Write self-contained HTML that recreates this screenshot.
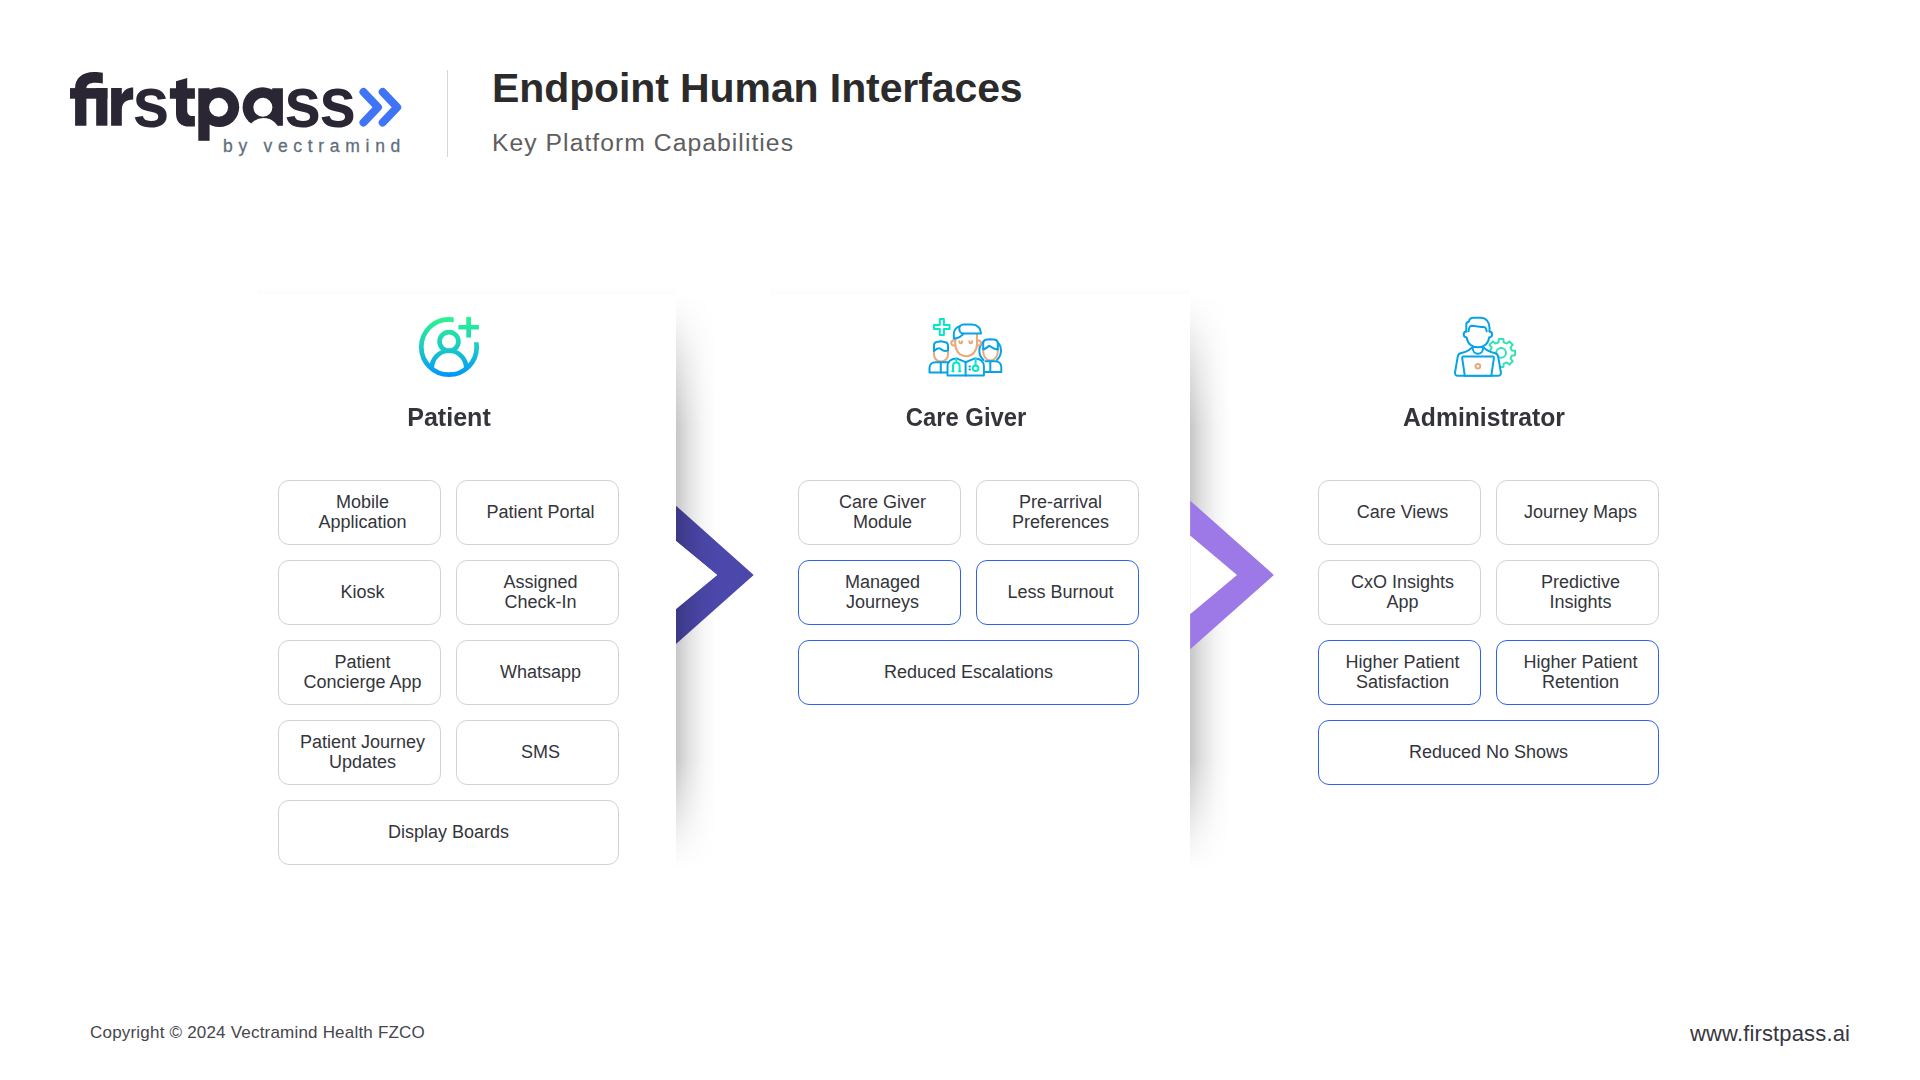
<!DOCTYPE html>
<html><head><meta charset="utf-8">
<style>
*{margin:0;padding:0;box-sizing:border-box}
html,body{width:1920px;height:1080px;overflow:hidden;background:#fff}
body{position:relative;font-family:"Liberation Sans",sans-serif;color:#2e3035}
.abs{position:absolute}
#logo{left:68px;top:58px;font-weight:bold;font-size:75px;color:#2a2633;white-space:nowrap;line-height:1}
#by{left:223px;top:138px;font-size:17.5px;color:#5f6f7c;letter-spacing:5.7px;-webkit-text-stroke:0.3px #5f6f7c;white-space:nowrap;line-height:1}
#divider{left:447px;top:70px;width:1px;height:87px;background:#d6d6d6}
#title{left:492px;top:67.5px;font-weight:bold;font-size:41px;letter-spacing:-0.1px;color:#2b2b2b;white-space:nowrap;line-height:1}
#subtitle{left:492px;top:130.5px;font-size:24.7px;letter-spacing:1.05px;color:#5e5e5e;white-space:nowrap;line-height:1}
.shadow{position:absolute;width:40px;background:linear-gradient(to right,rgba(0,0,0,.22),rgba(0,0,0,.12) 30%,rgba(0,0,0,.04) 65%,rgba(0,0,0,0));
 -webkit-mask-image:linear-gradient(to bottom,rgba(0,0,0,0) 0%,rgba(0,0,0,.18) 5%,rgba(0,0,0,.55) 12%,#000 23%,#000 81%,rgba(0,0,0,.55) 89%,rgba(0,0,0,.2) 95%,rgba(0,0,0,0) 100%)}
.head{position:absolute;width:300px;text-align:center;font-weight:bold;font-size:26px;color:#33353b;line-height:30px}
.card{position:absolute;width:163px;height:65px;border:1px solid #d2d2d2;border-radius:11px;display:flex;align-items:center;justify-content:center;text-align:center;font-size:18px;line-height:20px;color:#33353b;padding-left:6px;padding-bottom:2px}
.card.w{width:341px;padding-left:0}
.card.b{border-color:#2c63ee}
#copy{left:90px;top:1024px;font-size:17px;letter-spacing:0.2px;color:#46464c;white-space:nowrap;line-height:1}
#web{left:1690px;top:1022.5px;font-size:22px;letter-spacing:0.15px;color:#37373f;white-space:nowrap;line-height:1}
</style></head>
<body>
<svg class="abs" style="left:0;top:0" width="460" height="170" viewBox="0 0 460 170">
<g fill="#2a2633">
<path d="M75.1,125.7 V88 C75.1,78.5 82,72 94,72 C97.5,72 100.5,72.3 102.8,72.7 V83.5 C100.5,83 98,82.8 95.5,82.8 C89.5,82.8 86.4,85 86.4,88.1 V125.7 Z"/>
<rect x="70" y="88.1" width="37.4" height="10.6"/>
<rect x="96.2" y="88.1" width="11.2" height="37.6"/>
<path d="M111.1,125.7 V88.1 H121.8 V94.5 C124,90 128,87.5 133.2,87.5 V99.6 C126,99.6 121.8,103 121.8,110 V125.7 Z"/>
<path d="M176,81.2 L187.2,78 V88.3 H194.9 V98.7 H187.2 V110.5 C187.2,114 189,116 192.5,116 H194.9 V126.6 H189.5 C181,126.6 176,122 176,113.5 V98.7 H169.9 V88.3 H176 Z"/>
<rect x="198.3" y="88.25" width="11.3" height="52.55"/>
<circle cx="219.3" cy="107.15" r="19.9"/>
<circle cx="262.5" cy="107.15" r="19.9"/>
<rect x="272.2" y="88.25" width="10.7" height="37.55"/>
<g transform="translate(132.55,126.5) scale(0.909,1)"><text x="0" y="0" font-family="Liberation Sans" font-weight="bold" font-size="72.9">s</text></g>
<g transform="translate(284.35,126.5) scale(0.909,1)"><text x="0" y="0" font-family="Liberation Sans" font-weight="bold" font-size="72.9">s</text></g>
<g transform="translate(319.35,126.5) scale(0.909,1)"><text x="0" y="0" font-family="Liberation Sans" font-weight="bold" font-size="72.9">s</text></g>
</g>
<g fill="#fff">
<circle cx="218.6" cy="107.35" r="9.5"/>
<circle cx="262.9" cy="107.35" r="9.5"/>
<ellipse cx="263.5" cy="133" rx="16" ry="15"/>
</g>
<g fill="none" stroke="#3f74f7" stroke-width="8" stroke-linecap="round" stroke-linejoin="round">
<path d="M363.5,92 L378,107.2 L363.5,122.5"/>
<path d="M382.7,92 L397.2,107.2 L382.7,122.5"/>
</g>
</svg>
<div class="abs" id="by">by vectramind</div>
<div class="abs" id="divider"></div>
<div class="abs" id="title">Endpoint Human Interfaces</div>
<div class="abs" id="subtitle">Key Platform Capabilities</div>

<div class="abs" style="left:257px;top:285px;width:419px;height:10px;background:linear-gradient(to bottom,rgba(0,0,0,0),rgba(0,0,0,.012))"></div>
<div class="abs" style="left:771px;top:285px;width:419px;height:10px;background:linear-gradient(to bottom,rgba(0,0,0,0),rgba(0,0,0,.012))"></div>
<!-- chevron 1 (under shadow) -->
<svg class="abs" style="left:0;top:0" width="1920" height="1080">
<polygon points="676,505.7 753.7,575 676,643.9 676,609.1 717.1,575 676,540.9" fill="#4c48ab"/>
</svg>
<div class="shadow" style="left:676px;top:294px;height:575px"></div>
<div class="shadow" style="left:1190px;top:294px;height:575px"></div>
<svg class="abs" style="left:0;top:0" width="1920" height="1080">
<polygon points="676,540.9 717.1,575 676,609.1" fill="#fff"/>
<polygon points="1190.2,535.6 1237,575 1190.2,614.3" fill="#fff"/>
<polygon points="1190.2,500.7 1273.9,575 1190.2,649.2 1190.2,614.3 1237,575 1190.2,535.6" fill="#9d79e8"/>
</svg>


<!-- icons -->
<svg class="abs" style="left:0;top:0" width="1920" height="400" viewBox="0 0 1920 400">
<defs>
<linearGradient id="pg" x1="0" y1="317" x2="0" y2="377" gradientUnits="userSpaceOnUse">
<stop offset="0" stop-color="#2af58c"/><stop offset="0.5" stop-color="#1acdc4"/><stop offset="1" stop-color="#0094ff"/>
</linearGradient>
<clipPath id="pclip"><polygon points="400,300 453.7,300 453.7,342.2 500,342.2 500,400 400,400"/></clipPath>
</defs>
<g fill="none" stroke="url(#pg)" stroke-width="4.7">
<circle cx="449" cy="347" r="27.7" clip-path="url(#pclip)"/>
<circle cx="449" cy="341.5" r="9.4"/>
<path d="M431.75,368 A17.25,17.25 0 0 1 466.25,368"/>
<path d="M468.65,317 V337.5 M458.4,327.25 H478.9"/>
</g>
<!-- care giver -->
<g fill="none" stroke-width="2" stroke-linecap="round" stroke-linejoin="round">
<path stroke="#05e8c8" d="M939.8,319.1 H943.9 V325 H949.6 V328.9 H943.9 V334.9 H939.8 V328.9 H933.9 V325 H939.8 Z"/>
<!-- left person -->
<path stroke="#eaa97a" d="M934,351 V354.5 C934,358.5 937,361.5 941,361.5 C945,361.5 948,358.5 948,354.5 V351"/>
<path stroke="#07a3e6" fill="#fff" d="M934,351 V345.5 C934,343 935.5,342 938,341.8 L941,341.2 L945.5,342.2 C947.2,342.6 948,343.8 948,345.5 V350.5 L945,351 C942.5,351 941.5,349.5 940,348.5 C938,347.3 936,349 934,351 Z"/>
<path stroke="#07a3e6" fill="#fff" d="M948,372.5 H929.5 V368 C929.5,364.5 932,362.3 935.5,362.3 H948"/>
<path stroke="#07a3e6" d="M940.8,362.5 V372.5"/>
<!-- right person -->
<path stroke="#07a3e6" fill="#fff" d="M983.5,360 C980.5,357.5 979.3,354 979.3,350.5 C979.3,344.5 984,339.5 990.2,339.5 C996.5,339.5 1001,344.5 1001,350.5 C1001,354 999.5,357.5 997,360"/>
<path stroke="#eaa97a" d="M983.2,349.3 V351.5 C983.2,356.5 986.5,360.5 990.5,360.5 C994.5,360.5 997.8,356.5 997.8,351.5 V349.5"/>
<path stroke="#07a3e6" fill="#fff" d="M983.2,349.3 V343.5 C983.2,341 985,339.5 987.5,339.5 H993.5 C996,339.5 997.8,341 997.8,343.5 V349.5 C995,349.5 992,347.5 989.3,345.8 C987,347.5 985,349.3 983.2,349.3 Z"/>
<path stroke="#07a3e6" fill="#fff" d="M983.9,372 H1001.3 V367 C1001.3,363.5 998.5,361.3 995,361.3 H985.5"/>
<path stroke="#07a3e6" d="M990.3,362 V372"/>
<!-- doctor body -->
<path stroke="#07a3e6" fill="#fff" d="M947.5,375.5 V366.5 C947.5,361.5 951.5,358.4 956.5,358.4 L965.6,362.2 L975,358.4 C980,358.4 983.9,361.5 983.9,366.5 V375.5 Z"/>
<path stroke="#07a3e6" d="M965.6,362 V375.5"/>
<path stroke="#07a3e6" d="M969.5,366.6 H970 M969.5,369.6 H970"/>
<path stroke="#05e8c8" d="M956.3,358.8 V362.6 M953,371 V366 C953,364 954.5,362.6 956.3,362.6 C958.1,362.6 959.6,364 959.6,366 V371 M952.2,371.2 H953.6 M959,371.2 H960.4"/>
<path stroke="#05e8c8" d="M975.6,358.8 V365.4"/>
<circle stroke="#05e8c8" cx="975.6" cy="368.2" r="2.8"/>
<!-- doctor head -->
<path stroke="#eaa97a" d="M955.3,337.5 V344 C955.3,351 960,356.2 966.2,356.2 C972.4,356.2 977,351 977,344 V333.6"/>
<path stroke="#eaa97a" d="M955,340.3 C952.3,340.3 951.2,341.5 951.2,342.9 C951.2,344.4 952.5,345.5 955,345.5 M977.2,340.3 C979.9,340.3 981,341.5 981,342.9 C981,344.4 979.7,345.5 977.2,345.5"/>
<path stroke="#eaa97a" d="M959.3,341.3 C959.3,343.9 962.2,343.9 962.2,341.3 M969.3,341.3 C969.3,343.9 972.2,343.9 972.2,341.3"/>
<path stroke="#07a3e6" fill="#fff" d="M960.5,326 C956.3,326.8 953.8,330.3 953.8,334.3 V338.6 C958.3,338.3 961.6,336.2 963.5,333.6"/>
<path stroke="#07a3e6" fill="#fff" d="M963.2,333.6 H981 C981,328.3 977.3,324.5 972,324.5 H963.2 C960.8,324.5 959.3,326.6 959.3,329 C959.3,331.5 960.9,333.6 963.2,333.6 Z"/>
</g>
<!-- administrator -->
<g fill="none" stroke-width="2" stroke-linecap="round" stroke-linejoin="round">
<path stroke="#33e2b4" fill="#fff" d="M1498.5,342.3 L1498.8,339.0 L1503.4,339.0 L1503.7,342.3 L1506.8,343.6 L1509.3,341.4 L1512.7,344.8 L1510.5,347.3 L1511.8,350.4 L1515.1,350.7 L1515.1,355.3 L1511.8,355.6 L1510.5,358.7 L1512.7,361.2 L1509.3,364.6 L1506.8,362.4 L1503.7,363.7 L1503.4,367.0 L1498.8,367.0 L1498.5,363.7 L1495.4,362.4 L1492.9,364.6 L1489.5,361.2 L1491.7,358.7 L1490.4,355.6 L1487.1,355.3 L1487.1,350.7 L1490.4,350.4 L1491.7,347.3 L1489.5,344.8 L1492.9,341.4 L1495.4,343.6 Z"/>
<circle stroke="#33e2b4" cx="1501.1" cy="352.8" r="4.9"/>
</g>
<g fill="none" stroke="#07a3e6" stroke-width="2" stroke-linecap="round" stroke-linejoin="round">
<path fill="#fff" d="M1472.6,347.2 C1470,349.5 1468.5,351 1466,351.6 L1460.5,353.2 C1458.8,353.7 1458,355 1457.7,356.8 L1455,372.5 C1454.7,374.5 1456,375.8 1458,375.8 H1498 C1500,375.8 1501.2,374.5 1500.9,372.5 L1498.2,356.8 C1497.9,355 1497,353.7 1495.3,353.2 L1489.8,351.6 C1487.3,351 1485.8,349.5 1483.2,347.2"/>
<path d="M1472.6,347.2 C1472.6,351.5 1475,353.8 1477.9,353.8 C1480.8,353.8 1483.2,351.5 1483.2,347.2"/>
<path fill="#fff" d="M1463.5,356.5 H1492.6 C1493.5,356.5 1494,357.2 1493.9,358 L1491.3,375.8 H1464.8 L1462.2,358 C1462.1,357.2 1462.6,356.5 1463.5,356.5 Z"/>
<path fill="#fff" d="M1466.3,331.5 V324.5 C1466.3,322.8 1467.5,321.8 1469,321.5 C1469.3,319 1471,317.8 1473.5,317.8 H1480.5 C1486,317.8 1489.5,322 1489.5,327.5 V331.5"/>
<path d="M1468.5,331.3 C1468.8,328.5 1469.5,326 1471.5,325.8 C1476,325.8 1479.5,327 1483.5,327 C1485.3,327 1486.3,328.5 1486.7,331.3"/>
<path d="M1466.3,331.5 C1464.5,331.5 1463.7,333 1463.7,334.5 C1463.7,336 1465,337.3 1466.7,337.6 C1467.3,343.5 1472,347.3 1477.9,347.3 C1483.8,347.3 1488.5,343.5 1489.1,337.6 C1490.8,337.3 1492.1,336 1492.1,334.5 C1492.1,333 1491.3,331.5 1489.5,331.5"/>
<circle stroke="#e9a97c" cx="1477.9" cy="366.3" r="2.3"/>
</g>
</svg>

<div class="head" style="left:299px;top:402px;transform:scaleX(0.964)">Patient</div>
<div class="head" style="left:816px;top:402px;transform:scaleX(0.917)">Care Giver</div>
<div class="head" style="left:1334px;top:402px;transform:scaleX(0.95)">Administrator</div>

<div class="card" style="left:278px;top:480px">Mobile<br>Application</div>
<div class="card" style="left:456px;top:480px">Patient Portal</div>
<div class="card" style="left:278px;top:560px">Kiosk</div>
<div class="card" style="left:456px;top:560px">Assigned<br>Check-In</div>
<div class="card" style="left:278px;top:640px">Patient<br>Concierge App</div>
<div class="card" style="left:456px;top:640px">Whatsapp</div>
<div class="card" style="left:278px;top:720px">Patient Journey<br>Updates</div>
<div class="card" style="left:456px;top:720px">SMS</div>
<div class="card w" style="left:278px;top:800px">Display Boards</div>

<div class="card" style="left:798px;top:480px">Care Giver<br>Module</div>
<div class="card" style="left:976px;top:480px">Pre-arrival<br>Preferences</div>
<div class="card b" style="left:798px;top:560px">Managed<br>Journeys</div>
<div class="card b" style="left:976px;top:560px">Less Burnout</div>
<div class="card w b" style="left:798px;top:640px">Reduced Escalations</div>

<div class="card" style="left:1318px;top:480px">Care Views</div>
<div class="card" style="left:1496px;top:480px">Journey Maps</div>
<div class="card" style="left:1318px;top:560px">CxO Insights<br>App</div>
<div class="card" style="left:1496px;top:560px">Predictive<br>Insights</div>
<div class="card b" style="left:1318px;top:640px">Higher Patient<br>Satisfaction</div>
<div class="card b" style="left:1496px;top:640px">Higher Patient<br>Retention</div>
<div class="card w b" style="left:1318px;top:720px">Reduced No Shows</div>

<div class="abs" id="copy">Copyright © 2024 Vectramind Health FZCO</div>
<div class="abs" id="web">www.firstpass.ai</div>
</body></html>
